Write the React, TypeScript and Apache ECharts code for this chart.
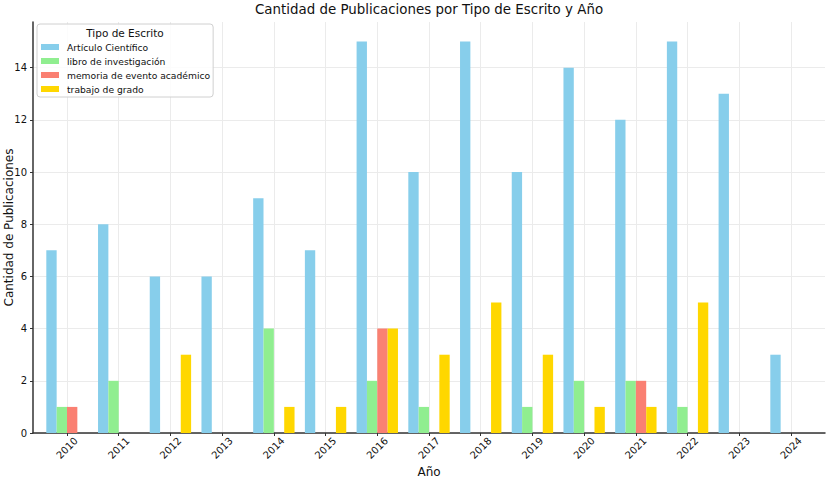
import React, { useEffect, useRef } from "react";
import * as echarts from "echarts";

const years = ["2010", "2011", "2012", "2013", "2014", "2015", "2016", "2017", "2018", "2019", "2020", "2021", "2022", "2023", "2024"];
const seriesNames = ["Artículo Científico", "libro de investigación", "memoria de evento académico", "trabajo de grado"];
const articulo = [7, 8, 6, 6, 9, 7, 15, 10, 15, 10, 14, 12, 15, 13, 3];
const libro = [1, 2, 0, 0, 4, 0, 2, 1, 0, 1, 2, 2, 1, 0, 0];
const memoria = [1, 0, 0, 0, 0, 0, 4, 0, 0, 0, 0, 2, 0, 0, 0];
const trabajo = [0, 0, 3, 0, 1, 1, 4, 3, 5, 3, 1, 1, 5, 0, 0];
const yTicks = [0, 2, 4, 6, 8, 10, 12, 14];
const colors = ["#87CEEB", "#90EE90", "#FA8072", "#FFD700"];

const FONT = "DejaVu Sans";
const Y_MAX = 15.75;

export default function App() {
  const ref = useRef<HTMLDivElement>(null);
  useEffect(() => {
    document.body.style.margin = "0";
    const chart = echarts.init(ref.current!, null, { renderer: "svg" });
    const values = [articulo, libro, memoria, trabajo];
    chart.setOption({
      animation: false,
      textStyle: { fontFamily: FONT },
      title: [
        {
          text: "Cantidad de Publicaciones por Tipo de Escrito y Año",
          left: 429,
          top: 3,
          padding: 0,
          textAlign: "center",
          textStyle: { fontSize: 13.4, fontWeight: "normal", color: "#111", fontFamily: FONT },
        },
        {
          text: "Tipo de Escrito",
          left: 125,
          top: 27,
          padding: 0,
          z: 10,
          textAlign: "center",
          textStyle: { fontSize: 10.5, fontWeight: "normal", color: "#111", fontFamily: FONT },
        },
      ],
      legend: {
        orient: "vertical",
        left: 37,
        top: 24,
        z: 3,
        padding: [17, 3, 2, 4],
        itemWidth: 18,
        itemHeight: 6,
        itemGap: 2,
        icon: "rect",
        backgroundColor: "rgba(255,255,255,0.85)",
        borderColor: "#d0d0d0",
        borderWidth: 1,
        borderRadius: 3,
        textStyle: { fontSize: 9.2, color: "#111", lineHeight: 12, fontFamily: FONT, padding: [0, 0, 0, 3] },
        data: seriesNames,
      },
      grid: [
        { left: 67, right: 37, top: 22, bottom: 51, containLabel: false, outerBoundsMode: "none" },
        { left: 33, right: 3, top: 22, bottom: 51, containLabel: false, outerBoundsMode: "none" },
      ],
      xAxis: [
        {
          type: "category",
          gridIndex: 0,
          data: years,
          boundaryGap: false,
          axisLine: { show: false },
          axisTick: { show: true, length: 3, lineStyle: { color: "#333" } },
          axisLabel: {
            rotate: 45,
            align: "center",
            verticalAlign: "middle",
            margin: 15,
            fontSize: 10,
            color: "#111",
            interval: 0,
          },
          splitLine: { show: true, interval: 0, lineStyle: { color: "#ebebeb", width: 1 } },
        },
        {
          type: "value",
          gridIndex: 1,
          min: 0,
          max: 1,
          name: "Año",
          nameLocation: "middle",
          nameGap: 39,
          nameMoveOverlap: false,
          nameTextStyle: { fontSize: 12, color: "#111", fontFamily: FONT, verticalAlign: "middle" },
          axisLine: { show: true, lineStyle: { color: "#333", width: 1.5 } },
          axisTick: { show: false },
          axisLabel: { show: false },
          splitLine: { show: false },
        },
      ],
      yAxis: [
        {
          type: "value",
          gridIndex: 0,
          min: 0,
          max: Y_MAX,
          show: false,
          splitLine: { show: false },
        },
        {
          type: "value",
          gridIndex: 1,
          min: 0,
          max: Y_MAX,
          name: "Cantidad de Publicaciones",
          nameLocation: "middle",
          nameGap: 24,
          nameMoveOverlap: false,
          nameTextStyle: { fontSize: 12, color: "#111", fontFamily: FONT, verticalAlign: "middle" },
          axisLine: { show: true, lineStyle: { color: "#333", width: 1.5 } },
          axisTick: { show: true, length: 3, customValues: yTicks, lineStyle: { color: "#333" } },
          axisLabel: { customValues: yTicks, fontSize: 10, color: "#111", margin: 6, hideOverlap: false },
          splitLine: { show: true, lineStyle: { color: "#ebebeb", width: 1 } },
        },
      ],
      series: seriesNames.map((name, i) => ({
        name,
        type: "bar",
        xAxisIndex: 0,
        yAxisIndex: 0,
        clip: false,
        barWidth: "20%",
        barGap: "0%",
        itemStyle: { color: colors[i] },
        data: values[i],
      })),
    });
    return () => chart.dispose();
  }, []);
  return <div ref={ref} style={{ width: 828, height: 484 }} />;
}
